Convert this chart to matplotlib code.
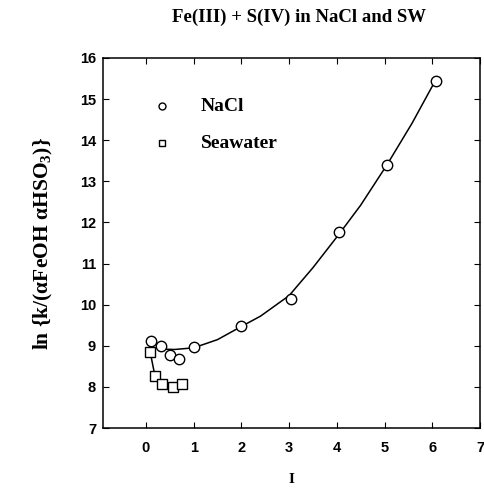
import matplotlib
matplotlib.use("Agg")
import matplotlib.pyplot as plt

plt.rcParams["mathtext.fontset"] = "custom"
plt.rcParams["mathtext.rm"] = "Liberation Serif:bold"
plt.rcParams["mathtext.it"] = "Liberation Serif:bold"
plt.rcParams["mathtext.bf"] = "Liberation Serif:bold"

# Data
nacl_I = [0.10, 0.31, 0.50, 0.70, 1.00, 2.00, 3.03, 4.05, 5.05, 6.07]
nacl_y = [9.11, 8.99, 8.77, 8.68, 8.96, 9.48, 10.13, 11.77, 13.39, 15.45]
sw_I = [0.09, 0.19, 0.34, 0.56, 0.75]
sw_y = [8.84, 8.26, 8.07, 8.00, 8.08]
fit_nacl_I = [0.30, 0.60, 1.00, 1.50, 2.00, 2.40, 3.00, 3.50, 4.05, 4.50, 5.05, 5.58, 6.06]
fit_nacl_y = [8.92, 8.91, 8.95, 9.15, 9.47, 9.72, 10.22, 10.90, 11.72, 12.42, 13.40, 14.42, 15.44]
fit_sw_I = [0.09, 0.19, 0.34]
fit_sw_y = [8.84, 8.26, 8.07]
xticks = [0, 1, 2, 3, 4, 5, 6, 7]
yticks = [7, 8, 9, 10, 11, 12, 13, 14, 15, 16]

serif = "Liberation Serif"
sans = "Liberation Sans"

fig = plt.figure(figsize=(4.84, 4.91), dpi=100)
ax = fig.add_axes([0.2128, 0.1283, 0.7789, 0.7536])

ax.plot(fit_nacl_I, fit_nacl_y, color="black", lw=1.1, zorder=2)
ax.plot(fit_sw_I, fit_sw_y, color="black", lw=1.1, zorder=2)
ax.plot(nacl_I, nacl_y, linestyle="none", marker="o", ms=7.5, mfc="white",
        mec="black", mew=1.0, zorder=3)
ax.plot(sw_I, sw_y, linestyle="none", marker="s", ms=6.5, mfc="white",
        mec="black", mew=1.0, zorder=3)

ax.set_xlim(-0.9, 7)
ax.set_ylim(7, 16)
ax.set_xticks(xticks)
ax.set_yticks(yticks)
ax.tick_params(direction="in", length=4, width=0.8, top=True, right=True,
               labelsize=10.5, pad=5)
for lab in ax.get_xticklabels() + ax.get_yticklabels():
    lab.set_fontfamily(sans)
    lab.set_fontweight("bold")
ax.tick_params(axis="x", pad=9)
for s in ax.spines.values():
    s.set_linewidth(1.1)

# legend (manual)
ax.plot([0.156], [0.870], transform=ax.transAxes, marker="o", ms=5,
        mfc="white", mec="black", mew=1.0, linestyle="none")
ax.plot([0.156], [0.770], transform=ax.transAxes, marker="s", ms=4.5,
        mfc="white", mec="black", mew=1.0, linestyle="none")
ax.text(0.26, 0.870, "NaCl", transform=ax.transAxes, fontfamily=serif,
        fontweight="bold", fontsize=14, va="center", ha="left")
ax.text(0.26, 0.770, "Seawater", transform=ax.transAxes, fontfamily=serif,
        fontweight="bold", fontsize=14, va="center", ha="left")

ax.set_xlabel("I", fontfamily=serif, fontweight="bold", fontsize=11, labelpad=13)
ax.set_ylabel("ln {k/(\u03b1FeOH \u03b1HSO$_3$)}",
              fontfamily=serif, fontweight="bold", fontsize=15.5, labelpad=18)

fig.text(0.618, 0.965, "Fe(III) + S(IV) in NaCl and SW", fontfamily=serif,
         fontweight="bold", fontsize=13.5, ha="center", va="center")

fig.savefig("out.png", dpi=100)
